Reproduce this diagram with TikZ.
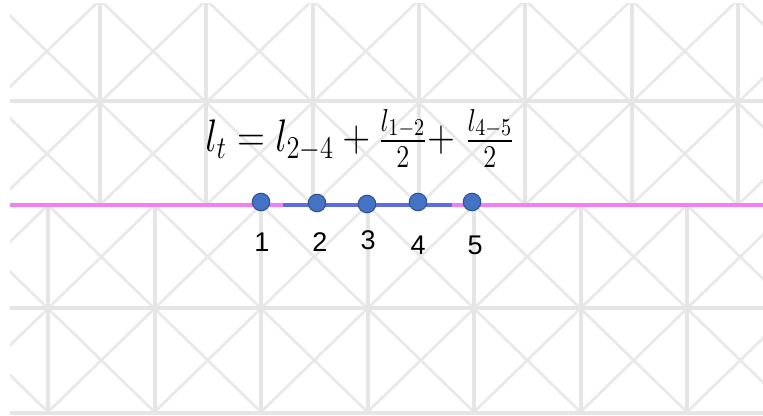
\documentclass[tikz,border=0pt]{standalone}
\usepackage{amsmath}
\usepackage{fontspec}
\newfontfamily\arialfont{Liberation Sans}
\definecolor{gridgray}{RGB}{229,229,229}
\definecolor{pinkline}{RGB}{243,128,243}
\definecolor{blueline}{RGB}{92,108,232}
\definecolor{dotblue}{RGB}{68,114,196}
\definecolor{dotedge}{RGB}{47,82,143}
\begin{document}
\begin{tikzpicture}[
  x=0.5pt,y=-0.5pt,
  grid/.style={draw=gridgray,line width=2pt},
  diag/.style={draw=gridgray!85,line width=1.4pt},
  dot/.style={circle,fill=dotblue,draw=dotedge,line width=0.5pt,minimum size=8.8pt,inner sep=0pt},
  num/.style={font=\arialfont\fontsize{13.5}{16}\selectfont,inner sep=0pt}]
  \useasboundingbox (0,0) rectangle (763,416);
  % tiled background
  \begin{scope}
    \clip (10,4) rectangle (763,414);
    \foreach \i in {-1,...,7}{
      \pgfmathsetmacro\xa{100+106.3*\i}
      \pgfmathsetmacro\xb{48+106.5*\i}
      \foreach \ya in {0,102.5}
        \draw[diag] (\xa,\ya) -- ++(106.3,102.5) (\xa+106.3,\ya) -- ++(-106.3,102.5);
      \foreach \yb in {205,308.5}
        \draw[diag] (\xb,\yb) -- ++(106.5,103.5) (\xb+106.5,\yb) -- ++(-106.5,103.5);
      \draw[grid] (\xa,0) -- (\xa,205);
      \draw[grid] (\xb,205) -- (\xb,413);
    }
    \draw[grid] (10,101) -- (763,101);
    \draw[grid] (10,308) -- (763,308);
    \draw[grid] (10,413) -- (763,413);
  \end{scope}
  \coordinate (lstart) at (10,205);
  \coordinate (lend) at (763,205);
  \coordinate (bstart) at (283,205);
  \coordinate (bend) at (452,205);
  \draw[pinkline,line width=2.3pt] (lstart) -- (lend);
  \draw[blueline,line width=2.3pt] (bstart) -- (bend);
  \node[dot] (p1) at (261,202) {};
  \node[dot] (p2) at (317,203) {};
  \node[dot] (p3) at (367,204) {};
  \node[dot] (p4) at (418,202) {};
  \node[dot] (p5) at (472,202) {};
  \node[num] (n1) at (262,242) {1};
  \node[num] (n2) at (320,242) {2};
  \node[num] (n3) at (368,240) {3};
  \node[num] (n4) at (418,245) {4};
  \node[num] (n5) at (475,245) {5};
  \node[anchor=base west,inner sep=0pt,xscale=0.92,yscale=1.1,transform shape,
    font=\fontsize{21}{25}\selectfont] (eq) at (205,152)
    {$l_t = l_{2-4} + \frac{l_{1-2}}{2}{+}\;\frac{l_{4-5}}{2}$};
\end{tikzpicture}
\end{document}
